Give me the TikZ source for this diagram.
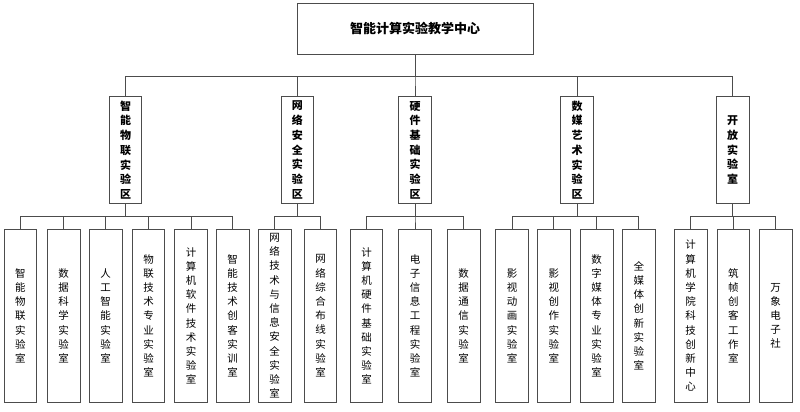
\documentclass[tikz,border=0pt]{standalone}
\usepackage{fontspec}
\newfontfamily\cjk{Noto Sans CJK SC}
\begin{document}
\begin{tikzpicture}[x=1pt,y=-1pt,
        box/.style={draw=black!70,line width=.8pt,inner sep=0pt,align=center},
        head/.style={box,minimum width=236pt,minimum height=51pt,font=\cjk\bfseries\fontsize{13}{15}\selectfont},
        zone/.style={box,minimum width=32.5pt,minimum height=106.6pt,font=\cjk\bfseries\fontsize{11}{14.7}\selectfont},
        room/.style={box,minimum width=32.5pt,minimum height=173pt,font=\cjk\fontsize{10.5}{14.2}\selectfont},
        link/.style={draw=black!70,line width=.8pt}]
        \useasboundingbox (0,0) rectangle (800,412);
        \node[head] (top) at (415,28.5) {智能计算实验教学中心};
        \node[zone] (z1) at (125.5,150) {智\\能\\物\\联\\实\\验\\区};
        \node[zone] (z2) at (297.3,150) {网\\络\\安\\全\\实\\验\\区};
        \node[zone] (z3) at (415,150) {硬\\件\\基\\础\\实\\验\\区};
        \node[zone] (z4) at (577,150) {数\\媒\\艺\\术\\实\\验\\区};
        \node[zone] (z5) at (732.7,150) {开\\放\\实\\验\\室};
        % leaves
        \node[room] (a1) at (20.3,315.8) {智\\能\\物\\联\\实\\验\\室};
        \node[room] (a2) at (63.7,315.8) {数\\据\\科\\学\\实\\验\\室};
        \node[room] (a3) at (105.7,315.8) {人\\工\\智\\能\\实\\验\\室};
        \node[room] (a4) at (148.5,315.8) {物\\联\\技\\术\\专\\业\\实\\验\\室};
        \node[room] (a5) at (191,315.8) {计\\算\\机\\软\\件\\技\\术\\实\\验\\室};
        \node[room] (a6) at (232.7,315.8) {智\\能\\技\\术\\创\\客\\实\\训\\室};
        \node[room] (b1) at (274.7,315.8) {网\\络\\技\\术\\与\\信\\息\\安\\全\\实\\验\\室};
        \node[room] (b2) at (320.5,315.8) {网\\络\\综\\合\\布\\线\\实\\验\\室};
        \node[room] (c1) at (366.5,315.8) {计\\算\\机\\硬\\件\\基\\础\\实\\验\\室};
        \node[room] (c2) at (415,315.8) {电\\子\\信\\息\\工\\程\\实\\验\\室};
        \node[room] (c3) at (463.7,315.8) {数\\据\\通\\信\\实\\验\\室};
        \node[room] (d1) at (512,315.8) {影\\视\\动\\画\\实\\验\\室};
        \node[room] (d2) at (553.8,315.8) {影\\视\\创\\作\\实\\验\\室};
        \node[room] (d3) at (596.7,315.8) {数\\字\\媒\\体\\专\\业\\实\\验\\室};
        \node[room] (d4) at (638.8,315.8) {全\\媒\\体\\创\\新\\实\\验\\室};
        \node[room] (e1) at (690.7,315.8) {计\\算\\机\\学\\院\\科\\技\\创\\新\\中\\心};
        \node[room] (e2) at (733.3,315.8) {筑\\帧\\创\\客\\工\\作\\室};
        \node[room] (e3) at (775.7,315.8) {万\\象\\电\\子\\社};
        % links
        \foreach \z in {z1,z2,z3,z4,z5}
            \draw[link] (top.south) -- ++(0,22) -| (\z.north);
        \foreach \r in {a1,a2,a3,a4,a5,a6}
            \draw[link] (z1.south) -- ++(0,12.7) -| (\r.north);
        \foreach \r in {b1,b2}
            \draw[link] (z2.south) -- ++(0,12.7) -| (\r.north);
        \foreach \r in {c1,c2,c3}
            \draw[link] (z3.south) -- ++(0,12.7) -| (\r.north);
        \foreach \r in {d1,d2,d3,d4}
            \draw[link] (z4.south) -- ++(0,12.7) -| (\r.north);
        \foreach \r in {e1,e2,e3}
            \draw[link] (z5.south) -- ++(0,12.7) -| (\r.north);
    \end{tikzpicture}
\end{document}
